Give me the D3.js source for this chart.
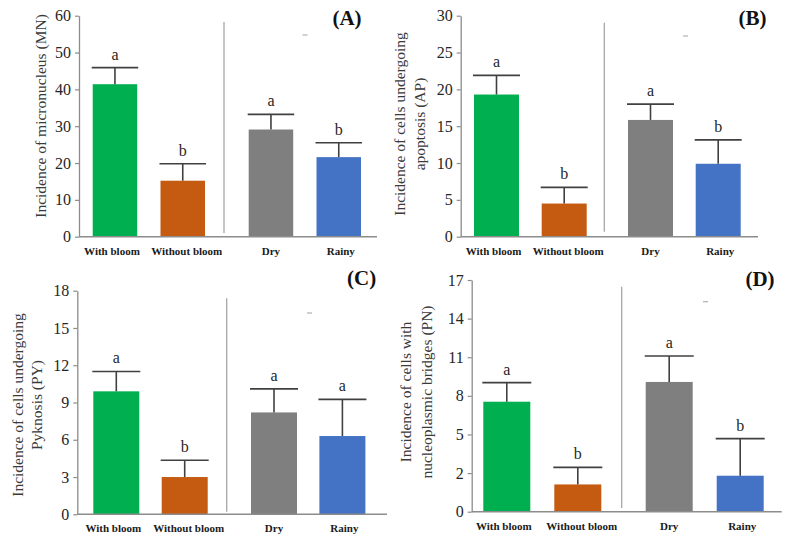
<!DOCTYPE html>
<html>
<head>
<meta charset="utf-8">
<script src="https://cdn.jsdelivr.net/npm/d3@7"></script>
<style>
  html, body { margin: 0; padding: 0; background: #fff; }
  svg { display: block; }
  text { font-family: "Liberation Serif", "Times New Roman", serif; }
</style>
</head>
<body>
<svg id="chart" width="789" height="543"></svg>
<script>
// ---------------- DATA ----------------
const categories = ["With bloom", "Without bloom", "Dry", "Rainy"];
const categoryGroup = [0, 0, 1, 1];
const barColors = ["#00b050", "#c55a11", "#7f7f7f", "#4472c4"];

const mnMeans   = [41.4, 15.2, 29.1, 21.6];
const mnErrors  = [4.5, 4.6, 4.1, 3.9];
const mnLetters = ["a", "b", "a", "b"];
const mnTicks   = [0, 10, 20, 30, 40, 50, 60];
const mnTickLabels = ["0", "10", "20", "30", "40", "50", "60"];

const apMeans   = [19.3, 4.5, 15.85, 9.9];
const apErrors  = [2.6, 2.2, 2.15, 3.25];
const apLetters = ["a", "b", "a", "b"];
const apTicks   = [0, 5, 10, 15, 20, 25, 30];
const apTickLabels = ["0", "5", "10", "15", "20", "25", "30"];

const pyMeans   = [9.9, 3.0, 8.2, 6.3];
const pyErrors  = [1.6, 1.35, 1.9, 2.95];
const pyLetters = ["a", "b", "a", "a"];
const pyTicks   = [0, 3, 6, 9, 12, 15, 18];
const pyTickLabels = ["0", "3", "6", "9", "12", "15", "18"];

const pnMeans   = [8.07, 2.0, 9.52, 2.64];
const pnErrors  = [1.4, 1.25, 1.9, 2.72];
const pnLetters = ["a", "b", "a", "b"];
const pnTicks   = [0, 17/6, 34/6, 51/6, 68/6, 85/6, 17];
const pnTickLabels = ["0", "2", "5", "8", "11", "14", "17"];

// ---------------- LAYOUT ----------------
const panels = [
  { tag: "(A)", means: mnMeans, errors: mnErrors, letters: mnLetters, ticks: mnTicks, tickLabels: mnTickLabels,
    title: ["Incidence of micronucleus (MN)"],
    axisX: 79, right: 377, yTop: 15.7, yBottom: 236.7,
    barStart: 92.7, step: 67.8, bw: 44.5, gap: 20.4,
    sep: 224, sepTop: 22, sepBottom: 233,
    titleX: [40], titleY: 116, tagX: 347, tagY: 25, dashX: 305, dashY: 35 },
  { tag: "(B)", means: apMeans, errors: apErrors, letters: apLetters, ticks: apTicks, tickLabels: apTickLabels,
    title: ["Incidence of cells undergoing", "apoptosis (AP)"],
    axisX: 460.7, right: 758, yTop: 15.7, yBottom: 236.7,
    barStart: 474, step: 67.7, bw: 45, gap: 18.6,
    sep: 604.3, sepTop: 22.7, sepBottom: 231.7,
    titleX: [399, 419], titleY: 124, tagX: 752.5, tagY: 25, dashX: 685.5, dashY: 36 },
  { tag: "(C)", means: pyMeans, errors: pyErrors, letters: pyLetters, ticks: pyTicks, tickLabels: pyTickLabels,
    title: ["Incidence of cells undergoing", "Pyknosis (PY)"],
    axisX: 77.3, right: 387, yTop: 290.7, yBottom: 514.3,
    barStart: 93.3, step: 68.4, bw: 46, gap: 20.9,
    sep: 226.7, sepTop: 298.3, sepBottom: 511.7,
    titleX: [17, 36], titleY: 405, tagX: 361.7, tagY: 285, dashX: 309.5, dashY: 313 },
  { tag: "(D)", means: pnMeans, errors: pnErrors, letters: pnLetters, ticks: pnTicks, tickLabels: pnTickLabels,
    title: ["Incidence of cells with", "nucleoplasmic bridges (PN)"],
    axisX: 471.7, right: 781.7, yTop: 280, yBottom: 511.7,
    barStart: 483.3, step: 71, bw: 47, gap: 20.4,
    sep: 621.7, sepTop: 286.7, sepBottom: 508,
    titleX: [405, 426], titleY: 392, tagX: 760, tagY: 286, dashX: 705.5, dashY: 301.7 }
];
const labelNudge = [-3, 4, 0, 2];

const svg = d3.select("#chart");

panels.forEach(p => {
  const g = svg.append("g");
  const maxV = p.ticks[p.ticks.length - 1];
  const y = d3.scaleLinear().domain([0, maxV]).range([p.yBottom, p.yTop]);
  const xb = d3.scaleBand().domain(categories)
    .range([p.barStart, p.barStart + 3 * p.step + p.bw])
    .paddingInner(1 - p.bw / p.step).paddingOuter(0);
  const xLeft = (c, i) => xb(c) + categoryGroup[i] * p.gap;
  const bw = xb.bandwidth();

  // separator
  g.append("line")
    .attr("x1", p.sep).attr("x2", p.sep)
    .attr("y1", p.sepTop).attr("y2", p.sepBottom)
    .attr("stroke", "#a6a6a6").attr("stroke-width", 1.3);

  // small dash
  g.append("line")
    .attr("x1", p.dashX - 2.5).attr("x2", p.dashX + 2.5)
    .attr("y1", p.dashY).attr("y2", p.dashY)
    .attr("stroke", "#b0b0b0").attr("stroke-width", 1.2);

  // bars
  g.selectAll("rect.bar").data(categories).enter().append("rect")
    .attr("class", "bar")
    .attr("x", (c, i) => xLeft(c, i))
    .attr("width", bw)
    .attr("y", (c, i) => y(p.means[i]))
    .attr("height", (c, i) => y(0) - y(p.means[i]))
    .attr("fill", (c, i) => barColors[i]);

  // error bars
  categories.forEach((c, i) => {
    const cx = xLeft(c, i) + bw / 2;
    const top = y(p.means[i] + p.errors[i]);
    g.append("line")
      .attr("x1", cx).attr("x2", cx)
      .attr("y1", y(p.means[i])).attr("y2", top)
      .attr("stroke", "#404040").attr("stroke-width", 1.6);
    g.append("line")
      .attr("x1", xLeft(c, i) - 1).attr("x2", xLeft(c, i) + bw + 1)
      .attr("y1", top).attr("y2", top)
      .attr("stroke", "#404040").attr("stroke-width", 1.6);
    g.append("text")
      .attr("x", cx).attr("y", top - 8)
      .attr("text-anchor", "middle")
      .attr("font-size", 16).attr("fill", "#262626")
      .text(p.letters[i]);
    g.append("text")
      .attr("x", cx + labelNudge[i]).attr("y", p.yBottom + 18)
      .attr("text-anchor", "middle")
      .attr("font-size", 11).attr("font-weight", "bold").attr("fill", "#1a1a1a")
      .text(c);
  });

  // y axis
  const yAxis = d3.axisLeft(y)
    .tickValues(p.ticks)
    .tickFormat((d, i) => p.tickLabels[i])
    .tickSize(4).tickSizeOuter(0).tickPadding(4);
  const ya = g.append("g").attr("transform", `translate(${p.axisX},0)`).call(yAxis);
  ya.select(".domain").attr("stroke", "#8c8c8c").attr("stroke-width", 1.3);
  ya.selectAll(".tick line").attr("stroke", "#8c8c8c").attr("stroke-width", 1.2);
  ya.selectAll(".tick text")
    .attr("font-family", "'Liberation Serif', serif")
    .attr("font-size", 16).attr("fill", "#262626");

  // x axis line
  g.append("line")
    .attr("x1", p.axisX).attr("x2", p.right)
    .attr("y1", p.yBottom).attr("y2", p.yBottom)
    .attr("stroke", "#8c8c8c").attr("stroke-width", 1.5);

  // y title
  p.title.forEach((t, k) => {
    g.append("text")
      .attr("transform", `translate(${p.titleX[k]},${p.titleY}) rotate(-90)`)
      .attr("text-anchor", "middle")
      .attr("dominant-baseline", "central")
      .attr("font-size", 15.5).attr("fill", "#3a3a3a")
      .text(t);
  });

  // panel tag
  g.append("text")
    .attr("x", p.tagX).attr("y", p.tagY)
    .attr("text-anchor", "middle")
    .attr("font-size", 21).attr("font-weight", "bold").attr("fill", "#111")
    .text(p.tag);
});
</script>
</body>
</html>
